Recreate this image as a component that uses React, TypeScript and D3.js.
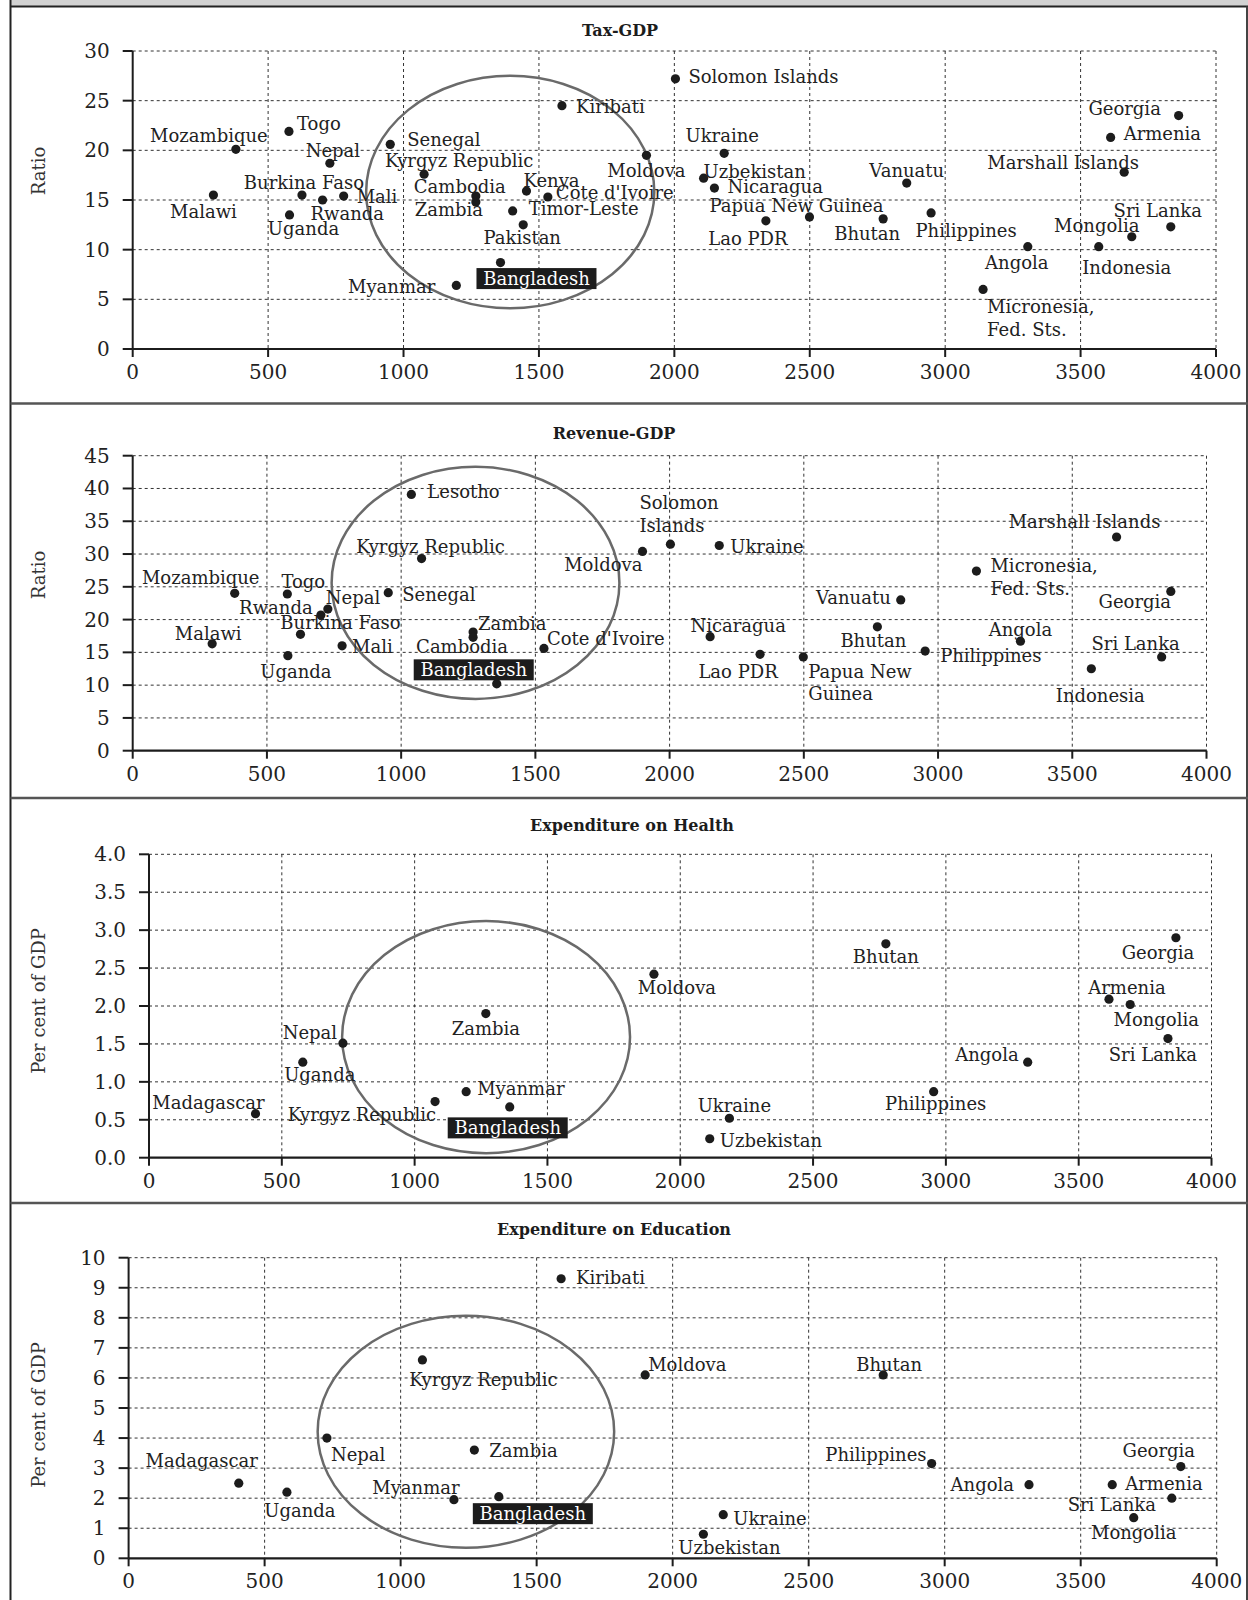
import React from "react";
import * as d3 from "d3";

// ---------------- data ----------------
// Tax-GDP
const taxCountries = ["Malawi", "Mozambique", "Togo", "Uganda", "Burkina Faso", "Rwanda", "Nepal", "Mali", "Senegal", "Kyrgyz Republic", "Myanmar", "Cambodia", "Zambia", "Bangladesh", "Timor-Leste", "Pakistan", "Kenya", "Cote d'Ivoire", "Kiribati", "Moldova", "Solomon Islands", "Uzbekistan", "Nicaragua", "Ukraine", "Lao PDR", "Papua New Guinea", "Bhutan", "Vanuatu", "Philippines", "Micronesia, Fed. Sts.", "Angola", "Indonesia", "Armenia", "Marshall Islands", "Mongolia", "Sri Lanka", "Georgia"];
const taxGdp = [298, 381, 577, 579, 625, 701, 728, 779, 951, 1076, 1195, 1267, 1267, 1358, 1403, 1442, 1454, 1533, 1585, 1897, 2004, 2108, 2148, 2184, 2338, 2499, 2771, 2858, 2948, 3140, 3305, 3567, 3611, 3661, 3689, 3833, 3862];
const taxRatio = [15.5, 20.1, 21.9, 13.5, 15.5, 15.0, 18.7, 15.4, 20.6, 17.6, 6.4, 15.4, 14.8, 8.7, 13.9, 12.5, 15.9, 15.3, 24.5, 19.5, 27.2, 17.2, 16.2, 19.7, 12.9, 13.3, 13.1, 16.7, 13.7, 6.0, 10.3, 10.3, 21.3, 17.8, 11.3, 12.3, 23.5];

// Revenue-GDP
const revCountries = ["Malawi", "Mozambique", "Togo", "Uganda", "Burkina Faso", "Rwanda", "Nepal", "Mali", "Senegal", "Lesotho", "Kyrgyz Republic", "Zambia", "Cambodia", "Bangladesh", "Cote d'Ivoire", "Moldova", "Solomon Islands", "Nicaragua", "Ukraine", "Lao PDR", "Papua New Guinea", "Bhutan", "Vanuatu", "Philippines", "Micronesia, Fed. Sts.", "Angola", "Indonesia", "Marshall Islands", "Sri Lanka", "Georgia"];
const revGdp = [296, 380, 576, 578, 625, 701, 727, 780, 952, 1038, 1076, 1268, 1268, 1356, 1532, 1899, 2003, 2151, 2185, 2337, 2498, 2774, 2861, 2952, 3143, 3307, 3571, 3665, 3833, 3867];
const revRatio = [16.3, 24.0, 23.9, 14.5, 17.75, 20.7, 21.6, 16.0, 24.1, 39.1, 29.3, 18.1, 17.3, 10.2, 15.6, 30.4, 31.5, 17.4, 31.3, 14.7, 14.3, 18.9, 23.0, 15.2, 27.4, 16.7, 12.5, 32.6, 14.3, 24.3];

// Expenditure on Health
const healthCountries = ["Madagascar", "Uganda", "Nepal", "Kyrgyz Republic", "Myanmar", "Zambia", "Bangladesh", "Moldova", "Uzbekistan", "Ukraine", "Bhutan", "Philippines", "Angola", "Armenia", "Mongolia", "Sri Lanka", "Georgia"];
const healthGdp = [401, 579, 730, 1077, 1194, 1268, 1358, 1901, 2111, 2185, 2774, 2954, 3308, 3614, 3694, 3836, 3866];
const healthPct = [0.58, 1.26, 1.51, 0.74, 0.87, 1.9, 0.67, 2.42, 0.25, 0.52, 2.82, 0.87, 1.26, 2.09, 2.02, 1.57, 2.9];

// Expenditure on Education
const eduCountries = ["Madagascar", "Uganda", "Nepal", "Kyrgyz Republic", "Myanmar", "Zambia", "Bangladesh", "Kiribati", "Moldova", "Uzbekistan", "Ukraine", "Bhutan", "Philippines", "Angola", "Armenia", "Mongolia", "Sri Lanka", "Georgia"];
const eduGdp = [405, 582, 729, 1080, 1196, 1271, 1361, 1590, 1899, 2113, 2186, 2774, 2952, 3310, 3616, 3695, 3835, 3868];
const eduPct = [2.5, 2.2, 4.0, 6.6, 1.95, 3.6, 2.05, 9.3, 6.1, 0.8, 1.45, 6.1, 3.15, 2.45, 2.45, 1.35, 2.0, 3.05];

const xTicks = [0, 500, 1000, 1500, 2000, 2500, 3000, 3500, 4000];
const highlight = "Bangladesh";

// ---------------- layout ----------------
const W = 1248;
const H = 1600;
const FONT = "'DejaVu Serif', 'Liberation Serif', serif";
const INK = "#1c1c1c";

// label placement: [anchor, dx, dy, lines?]
type Place = [string, number, number, string[]?];

const taxPlace: Record<string, Place> = {
  Malawi: ["m", -10, 16], Mozambique: ["m", -27, -14], Togo: ["s", 8, -8], Uganda: ["m", 14, 13],
  "Burkina Faso": ["m", 2, -13], Rwanda: ["s", -12, 13], Nepal: ["m", 3, -13], Mali: ["s", 13, 0],
  Senegal: ["s", 17, -5], "Kyrgyz Republic": ["m", 35, -14], Myanmar: ["e", -21, 1], Cambodia: ["m", -16, -10],
  Zambia: ["m", -27, 7], Bangladesh: ["m", 36, 16], "Timor-Leste": ["s", 16, -3], Pakistan: ["m", -1, 12],
  Kenya: ["m", 25, -11], "Cote d'Ivoire": ["s", 8, -5], Kiribati: ["s", 14, 0], Moldova: ["m", 0, 15],
  "Solomon Islands": ["s", 13, -3], Uzbekistan: ["s", 0, -7], Nicaragua: ["s", 13, -2], Ukraine: ["m", -2, -18],
  "Lao PDR": ["m", -18, 17], "Papua New Guinea": ["m", -13, -12], Bhutan: ["m", -16, 14], Vanuatu: ["m", 0, -13],
  Philippines: ["m", 35, 17], "Micronesia, Fed. Sts.": ["s", 4, 17, ["Micronesia,", "Fed. Sts."]],
  Angola: ["m", -11, 15], Indonesia: ["m", 28, 20], Armenia: ["s", 13, -4], "Marshall Islands": ["m", -61, -10],
  Mongolia: ["m", -35, -12], "Sri Lanka": ["m", -13, -17], Georgia: ["m", -54, -8],
};

const revPlace: Record<string, Place> = {
  Malawi: ["m", -4, -11], Mozambique: ["m", -34, -16], Togo: ["m", 16, -13], Uganda: ["m", 8, 15],
  "Burkina Faso": ["m", 40, -12], Rwanda: ["m", -45, -8], Nepal: ["s", -2, -12], Mali: ["s", 10, 0],
  Senegal: ["s", 14, 1], Lesotho: ["s", 16, -3], "Kyrgyz Republic": ["m", 9, -13], Zambia: ["s", 5, -9],
  Cambodia: ["m", -11, 9], Bangladesh: ["m", -23, -14], "Cote d'Ivoire": ["s", 3, -10], Moldova: ["e", 0, 13],
  "Solomon Islands": ["s", -31, -42, ["Solomon", "Islands"]], Nicaragua: ["m", 28, -12], Ukraine: ["s", 11, 0],
  "Lao PDR": ["m", -22, 17], "Papua New Guinea": ["s", 5, 14, ["Papua New", "Guinea"]], Bhutan: ["m", -4, 13],
  Vanuatu: ["e", -10, -3], Philippines: ["s", 15, 4], "Micronesia, Fed. Sts.": ["s", 14, -6, ["Micronesia,", "Fed. Sts."]],
  Angola: ["m", 0, -12], Indonesia: ["m", 9, 26], "Marshall Islands": ["m", -32, -16], "Sri Lanka": ["m", -26, -14],
  Georgia: ["m", -36, 10],
};

const healthPlace: Record<string, Place> = {
  Madagascar: ["m", -47, -12], Uganda: ["m", 17, 12], Nepal: ["m", -33, -11], "Kyrgyz Republic": ["e", 1, 12],
  Myanmar: ["s", 11, -4], Zambia: ["m", 0, 14], Bangladesh: ["m", -2, 21], Moldova: ["m", 23, 13],
  Uzbekistan: ["s", 10, 1], Ukraine: ["m", 5, -13], Bhutan: ["m", 0, 12], Philippines: ["m", 2, 11],
  Angola: ["e", -9, -8], Armenia: ["m", 18, -12], Mongolia: ["m", 26, 15], "Sri Lanka": ["m", -15, 15],
  Georgia: ["m", -18, 14],
};

const eduPlace: Record<string, Place> = {
  Madagascar: ["m", -37, -23], Uganda: ["m", 13, 18], Nepal: ["s", 4, 16], "Kyrgyz Republic": ["m", 61, 19],
  Myanmar: ["m", -38, -13], Zambia: ["s", 15, 0], Bangladesh: ["m", 34, 17], Kiribati: ["s", 15, -2],
  Moldova: ["s", 3, -11], Uzbekistan: ["m", 26, 13], Ukraine: ["s", 10, 3], Bhutan: ["m", 6, -11],
  Philippines: ["e", -5, -10], Angola: ["e", -15, -1], Armenia: ["s", 13, -2], Mongolia: ["m", 0, 14],
  "Sri Lanka": ["m", -60, 6], Georgia: ["m", -22, -17],
};

type Cfg = {
  title: string; yLabel: string; names: string[]; gdp: number[]; vals: number[];
  yMax: number; yStep: number; yFmt: string; ring: number[]; place: Record<string, Place>;
  x0: number; x1: number; yTop: number; yBot: number; titleX: number; titleY: number; yLabelY: number;
};

const panels: Cfg[] = [
  { title: "Tax-GDP", yLabel: "Ratio", names: taxCountries, gdp: taxGdp, vals: taxRatio, yMax: 30, yStep: 5, yFmt: "d",
    ring: [1394, 15.8, 532, 11.7], place: taxPlace, x0: 132.7, x1: 1216, yTop: 51, yBot: 349, titleX: 620, titleY: 30, yLabelY: 171 },
  { title: "Revenue-GDP", yLabel: "Ratio", names: revCountries, gdp: revGdp, vals: revRatio, yMax: 45, yStep: 5, yFmt: "d",
    ring: [1277, 25.6, 536, 17.7], place: revPlace, x0: 132.7, x1: 1206.5, yTop: 455.7, yBot: 750.7, titleX: 614, titleY: 433, yLabelY: 575 },
  { title: "Expenditure on Health", yLabel: "Per cent of GDP", names: healthCountries, gdp: healthGdp, vals: healthPct, yMax: 4, yStep: 0.5, yFmt: ".1f",
    ring: [1269, 1.59, 542, 1.53], place: healthPlace, x0: 149, x1: 1211.5, yTop: 854.3, yBot: 1157.7, titleX: 632, titleY: 825, yLabelY: 1001 },
  { title: "Expenditure on Education", yLabel: "Per cent of GDP", names: eduCountries, gdp: eduGdp, vals: eduPct, yMax: 10, yStep: 1, yFmt: "d",
    ring: [1240, 4.21, 545, 3.86], place: eduPlace, x0: 128.6, x1: 1216.7, yTop: 1257.7, yBot: 1558.3, titleX: 614, titleY: 1229, yLabelY: 1415 },
];

const dividers = [403.5, 798, 1203];

const anchorOf = (a: string) => (a === "s" ? "start" : a === "e" ? "end" : "middle");

function Panel({ cfg }: { cfg: Cfg }) {
  const x = d3.scaleLinear().domain([0, 4000]).range([cfg.x0, cfg.x1]);
  const y = d3.scaleLinear().domain([0, cfg.yMax]).range([cfg.yBot, cfg.yTop]);
  const yTicks = d3.range(0, cfg.yMax + cfg.yStep / 2, cfg.yStep);
  const fmt = d3.format(cfg.yFmt);
  const [rcx, rcy, rrx, rry] = cfg.ring;

  return (
    <g>
      <text x={cfg.titleX} y={cfg.titleY + 6} textAnchor="middle" fontFamily={FONT} fontWeight="bold" fontSize={16} fill={INK}>
        {cfg.title}
      </text>
      <text transform={`translate(45,${cfg.yLabelY}) rotate(-90)`} textAnchor="middle" fontFamily={FONT} fontSize={18} fill="#333">
        {cfg.yLabel}
      </text>

      {/* grid */}
      {xTicks.filter((t) => t > 0).map((t) => (
        <line key={"gx" + t} x1={x(t)} x2={x(t)} y1={y(cfg.yMax)} y2={y(0)} stroke="#333" strokeWidth={1} strokeDasharray="3,3" />
      ))}
      {yTicks.filter((t) => t > 0).map((t) => (
        <line key={"gy" + t} x1={x(0)} x2={x(4000)} y1={y(t)} y2={y(t)} stroke="#333" strokeWidth={1} strokeDasharray="3,3" />
      ))}

      {/* ring around the low-income cluster */}
      <ellipse cx={x(rcx)} cy={y(rcy)} rx={x(rrx) - x(0)} ry={y(0) - y(rry)} fill="none" stroke="#6a6a6a" strokeWidth={2.5} />

      {/* axes */}
      <line x1={x(0)} x2={x(0)} y1={y(cfg.yMax)} y2={y(0)} stroke={INK} strokeWidth={2} />
      <line x1={x(0)} x2={x(4000)} y1={y(0)} y2={y(0)} stroke={INK} strokeWidth={2.2} />
      {yTicks.map((t) => (
        <g key={"yt" + t}>
          <line x1={x(0) - 10} x2={x(0)} y1={y(t)} y2={y(t)} stroke={INK} strokeWidth={2} />
          <text x={x(0) - 23} y={y(t)} dominantBaseline="central" textAnchor="end" fontFamily={FONT} fontSize={20} fill="#222">
            {fmt(t)}
          </text>
        </g>
      ))}
      {xTicks.map((t) => (
        <g key={"xt" + t}>
          <line x1={x(t)} x2={x(t)} y1={y(0)} y2={y(0) + 8} stroke={INK} strokeWidth={2} />
          <text x={x(t)} y={y(0) + 30} textAnchor="middle" fontFamily={FONT} fontSize={20} fill="#222">
            {t}
          </text>
        </g>
      ))}

      {/* points */}
      {cfg.names.map((n, i) => (
        <circle key={"p" + n} cx={x(cfg.gdp[i])} cy={y(cfg.vals[i])} r={4.6} fill={INK} />
      ))}

      {/* labels */}
      {cfg.names.map((n, i) => {
        const p = cfg.place[n];
        if (!p) return null;
        const [a, dx, dy, lines] = p;
        const px = x(cfg.gdp[i]) + dx;
        const py = y(cfg.vals[i]) + dy;
        if (n === highlight) {
          return (
            <g key={"l" + n}>
              <rect x={px - 60} y={py - 10.5} width={120} height={21} fill="#1c1c1c" />
              <text x={px} y={py} textAnchor="middle" dominantBaseline="central" fontFamily={FONT} fontSize={18} fill="#fff">
                {n}
              </text>
            </g>
          );
        }
        const ls = lines || [n];
        return (
          <text key={"l" + n} textAnchor={anchorOf(a)} dominantBaseline="central" fontFamily={FONT} fontSize={18} fill="#222">
            {ls.map((s, k) => (
              <tspan key={k} x={px} y={py + k * 22.5}>{s}</tspan>
            ))}
          </text>
        );
      })}
    </g>
  );
}

export default function App() {
  return (
    <div style={{ position: "absolute", left: 0, top: 0 }}>
      <svg width={W} height={H} viewBox={`0 0 ${W} ${H}`} style={{ display: "block", background: "#fff" }}>
        <rect x={10.5} y={0} width={W - 10.5} height={6.5} fill="#d2d2d2" />
        <line x1={10.5} x2={W} y1={6.5} y2={6.5} stroke="#222" strokeWidth={2} />
        <line x1={10.5} x2={10.5} y1={0} y2={H} stroke="#222" strokeWidth={2} />
        <line x1={W - 1} x2={W - 1} y1={6.5} y2={H} stroke="#444" strokeWidth={2} />
        {dividers.map((d) => (
          <line key={d} x1={10.5} x2={W} y1={d} y2={d} stroke="#555" strokeWidth={2.5} />
        ))}
        {panels.map((c) => (
          <Panel key={c.title} cfg={c} />
        ))}
      </svg>
    </div>
  );
}
